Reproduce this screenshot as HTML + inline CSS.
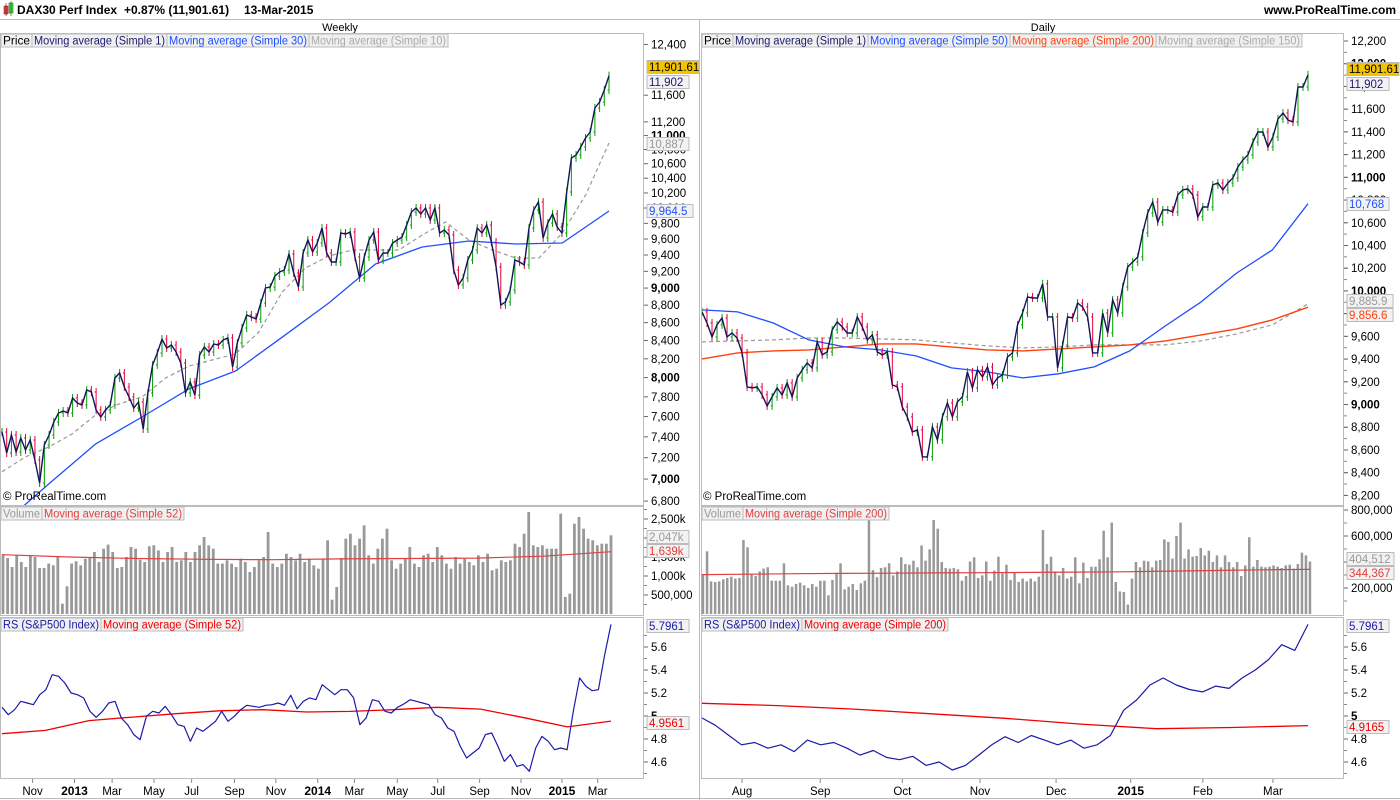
<!DOCTYPE html>
<html><head><meta charset="utf-8"><title>DAX30 Perf Index</title>
<style>
html,body{margin:0;padding:0;background:#fff;}
svg{display:block;font-family:"Liberation Sans",Arial,sans-serif;}
</style></head>
<body>
<svg id="chart" width="1400" height="800" viewBox="0 0 1400 800" xmlns="http://www.w3.org/2000/svg">
<defs>
<clipPath id="cpLP"><rect x="1" y="34" width="642" height="471"/></clipPath>
<clipPath id="cpRP"><rect x="702" y="34" width="641" height="471"/></clipPath>
<clipPath id="cpLR"><rect x="1" y="618" width="642" height="160"/></clipPath>
<clipPath id="cpRR"><rect x="702" y="618" width="641" height="160"/></clipPath>
</defs>
<rect x="0" y="0" width="1400" height="800" fill="#fff"/>
<g>
<rect x="4" y="6" width="4" height="8" fill="#e05050" stroke="#800" stroke-width="0.5"/><line x1="6" y1="3" x2="6" y2="16" stroke="#800" stroke-width="0.6"/>
<rect x="9" y="3" width="4" height="10" fill="#50d050" stroke="#060" stroke-width="0.5"/><line x1="11" y1="1" x2="11" y2="16" stroke="#060" stroke-width="0.6"/>
<text x="17" y="14" font-size="12" font-weight="bold" fill="#000">DAX30 Perf Index</text>
<text x="124" y="14" font-size="12" font-weight="bold" fill="#000">+0.87% (11,901.61)</text>
<text x="244" y="14" font-size="12" font-weight="bold" fill="#000">13-Mar-2015</text>
<text x="1396" y="14" font-size="12" font-weight="bold" fill="#000" text-anchor="end">www.ProRealTime.com</text>
<line x1="0" y1="19.5" x2="1400" y2="19.5" stroke="#bbb"/>
</g>
<text x="340" y="31" font-size="11" text-anchor="middle">Weekly</text>
<text x="1043" y="31" font-size="11" text-anchor="middle">Daily</text>
<g id="frames" fill="none" stroke="#bbb">
<rect x="0.5" y="33.5" width="643" height="472"/>
<rect x="0.5" y="506.5" width="643" height="109"/>
<rect x="0.5" y="617.5" width="643" height="161"/>
<rect x="701.5" y="33.5" width="642" height="472"/>
<rect x="701.5" y="506.5" width="642" height="109"/>
<rect x="701.5" y="617.5" width="642" height="161"/>
<line x1="0" y1="798.5" x2="1400" y2="798.5"/>
<line x1="699.5" y1="20" x2="699.5" y2="800"/>
</g>
<g id="plot"></g>
<g id="overlay"></g>
</svg>
<script>
// ===== Weekly data =====
const weeklyClose=[7447,7244,7418,7254,7389,7273,7369,7178,6964,7321,7418,7546,7636,7656,7636,7788,7737,7717,7870,7850,7666,7596,7666,7717,7995,8049,7902,7798,7686,7747,7477,7840,8134,8263,8416,8318,8350,8274,8155,7840,7954,7818,8241,8329,8274,8362,8350,8406,8428,8112,8373,8539,8687,8664,8641,8825,9001,9013,9144,9192,9216,9413,9180,9013,9425,9588,9437,9550,9740,9425,9314,9314,9676,9663,9689,9376,9120,9376,9588,9689,9339,9425,9425,9550,9588,9625,9779,9947,10000,9921,10000,9843,10000,9676,9715,9651,9216,9037,9120,9339,9462,9740,9676,9779,9563,9253,8802,8837,8977,9339,9314,9277,9740,9974,10079,9613,9805,9921,9753,9676,10213,10680,10722,10836,10965,11052,11406,11497,11680,11902];
const weeklyMA30=[6590,6955,7330,7596,7882,8070,8437,8825,9290,9500,9575,9537,9550,9960];
const weeklyMA10=[7068,7206,7302,7428,7615,7727,7798,7995,8122,8187,8253,8494,8954,9241,9388,9462,9462,9462,9651,9817,9588,9462,9363,9363,9676,10172,10893];
const weeklyVolume=[1561,1474,1237,1544,1368,1237,1544,1500,1211,1211,1325,1281,1500,272,728,1325,1386,1281,1456,1500,1632,1368,1719,1825,1632,1211,1237,1500,1763,1719,1430,1368,1781,1807,1675,1368,1632,1763,1368,1412,1632,1368,1632,1807,2026,1807,1719,1325,1325,1412,1325,1237,1456,1368,1105,1237,1412,1500,2158,1325,1237,1325,1588,1500,1412,1588,1368,1456,1281,1193,1456,1939,377,711,1474,1982,2114,1807,1982,2333,1544,1325,1719,1982,2246,1412,1193,1325,1456,1763,1325,1237,1544,1588,1368,1763,1544,1325,1193,1500,1325,1456,1368,1281,1544,1368,1588,1149,1193,1412,1368,1412,1851,1763,2114,2684,1807,1763,1807,1719,1719,1719,2640,447,535,2377,2553,2246,1982,1939,1807,1851,1851,2070];
const weeklyVolMA=[1560,1500,1460,1440,1430,1450,1460,1470,1520,1640];
const weeklyRS=[5.076,5.011,5.055,5.128,5.113,5.098,5.185,5.229,5.359,5.345,5.287,5.2,5.185,5.157,5.041,4.989,5.041,5.113,5.128,4.983,4.924,4.838,4.794,4.997,5.041,5.026,5.084,5.011,4.924,4.91,4.78,4.896,4.867,4.91,4.954,5.041,4.954,4.997,5.055,5.093,5.084,5.076,5.093,5.098,5.113,5.093,5.18,5.063,5.128,5.157,5.142,5.272,5.229,5.185,5.229,5.229,5.157,4.924,4.983,5.142,5.128,5.041,5.026,5.076,5.104,5.142,5.128,5.113,5.098,5.011,4.983,4.896,4.867,4.736,4.635,4.678,4.722,4.838,4.852,4.736,4.606,4.664,4.562,4.577,4.519,4.722,4.823,4.78,4.707,4.722,4.707,5.041,5.33,5.258,5.22,5.229,5.533,5.7961];
const weeklyRSMA=[4.846,4.875,4.96,4.99,5.02,5.045,5.055,5.035,5.04,5.055,5.076,5.06,4.985,4.905,4.956];
// ===== Daily data =====
const dailyClose=[9815,9718,9595,9701,9762,9595,9630,9586,9454,9155,9146,9155,9085,8988,9067,9146,9085,9190,9067,9234,9305,9366,9322,9551,9437,9463,9657,9727,9683,9630,9630,9771,9683,9569,9613,9463,9437,9463,9173,9155,8979,8891,8759,8777,8539,8539,8803,8689,8891,9014,8891,9023,9067,9287,9146,9305,9243,9331,9173,9234,9261,9419,9454,9701,9806,9947,9938,9938,10062,9771,9771,9322,9525,9771,9762,9894,9859,9771,9454,9454,9806,9630,9921,9806,10035,10211,10255,10299,10510,10686,10783,10607,10713,10713,10695,10845,10889,10898,10845,10651,10739,10739,10933,10950,10889,10950,10994,11091,11153,11197,11311,11399,11399,11267,11355,11514,11566,11505,11487,11795,11795,11902];
const dailyMA50=[9833,9815,9718,9569,9507,9481,9428,9322,9287,9234,9270,9331,9472,9692,9903,10158,10361,10768];
const dailyMA200=[9402,9454,9472,9481,9507,9534,9534,9507,9481,9472,9490,9507,9525,9560,9613,9666,9745,9857];
const dailyMA150=[9551,9560,9569,9586,9586,9578,9569,9542,9516,9498,9507,9525,9525,9525,9560,9622,9701,9886];
const dailyVolume=[303,482,251,246,251,267,277,287,272,277,569,513,310,292,328,349,359,256,256,256,390,221,210,231,241,221,200,231,210,256,256,144,262,318,390,190,210,231,185,236,256,728,338,282,354,359,390,297,328,436,385,379,410,359,528,410,497,723,656,400,354,349,354,344,256,292,405,436,277,297,405,256,333,441,313,379,262,318,246,272,251,272,251,287,646,385,441,328,297,354,272,287,436,236,395,277,364,364,421,641,436,703,246,174,169,72,272,400,359,410,405,359,410,415,574,554,426,600,703,426,497,441,446,508,451,487,400,451,359,451,400,359,400,292,374,590,364,415,364,359,364,374,364,354,374,379,349,385,472,451,405];
const dailyVolMA=[303,306,310,312,314,316,318,320,322,325,330,335,340,344];
const dailyRS=[4.983,4.92,4.835,4.75,4.77,4.72,4.75,4.69,4.79,4.75,4.77,4.72,4.66,4.70,4.64,4.62,4.65,4.57,4.60,4.53,4.57,4.66,4.75,4.82,4.77,4.83,4.79,4.75,4.79,4.72,4.75,4.83,5.05,5.14,5.27,5.33,5.27,5.23,5.21,5.26,5.24,5.33,5.40,5.49,5.62,5.57,5.7961];
const dailyRSMA=[5.11,5.09,5.06,5.02,4.98,4.93,4.89,4.90,4.9165];
// ===== tick labels =====
const weeklyPriceTicks=[12400,11600,11200,11000,10800,10600,10400,10200,10000,9800,9600,9400,9200,9000,8800,8600,8400,8200,8000,7800,7600,7400,7200,7000,6800];
const dailyPriceTicks=[12200,12000,11800,11600,11400,11200,11000,10800,10600,10400,10200,10000,9800,9600,9400,9200,9000,8800,8600,8400,8200];
const weeklyVolTicks=[2500,2000,1500,1000,500];
const weeklyVolTickLabels=["2,500k","2,000k","1,500k","1,000k","500,000"];
const dailyVolTicks=[800,600,400,200];
const dailyVolTickLabels=["800,000","600,000","400,000","200,000"];
const rsTicks=[5.6,5.4,5.2,5,4.8,4.6];
const weeklyMonths=["Nov","2013","Mar","May","Jul","Sep","Nov","2014","Mar","May","Jul","Sep","Nov","2015","Mar"];
const weeklyMonthWeek=[6.5,15.4,23.4,32.3,40.3,49.4,58.2,67.1,74.9,84,92.6,101.5,110.3,119,126.6];
const dailyMonths=["Aug","Sep","Oct","Nov","Dec","2015","Feb","Mar"];
const dailyMonthDay=[8,23.6,40,55.5,70.7,85.6,100,114];

const NS="http://www.w3.org/2000/svg";
const plot=document.getElementById('plot');
const overlay=document.getElementById('overlay');
function mk(tag,attrs,parent){const e=document.createElementNS(NS,tag);for(const k in attrs)e.setAttribute(k,attrs[k]);(parent||plot).appendChild(e);return e;}
function fmt(v){return v.toLocaleString('en-US');}

// scales
const wx=i=>2+i*(607/(weeklyClose.length-1));
const wy=p=>208-760*Math.log(p/10000);
const dx=i=>702+i*(606/(dailyClose.length-1));
const dy=p=>41+(12200-p)*0.1136;
const rsy=v=>716-(v-5)*115;
const wvy=v=>614-v*0.038;
const dvy=v=>614-v*0.13;

function sampled(arr,x0,x1,yf,attrs,name,parent){
  const pts=arr.map((v,k)=>(x0+k*(x1-x0)/(arr.length-1)).toFixed(1)+','+yf(v).toFixed(1)).join(' ');
  const el=mk('polyline',Object.assign({points:pts,fill:'none','stroke-linejoin':'round'},attrs),parent);
  
  
  return el;
}

function priceBars(close,xf,yf,clip,prefix){
  const g=mk('g',{'clip-path':'url(#'+clip+')'});
  
  
  for(let i=0;i<close.length;i++){
    const prev=i>0?close[i-1]:close[i];
    const up=close[i]>=prev;
    const y1=yf(Math.max(prev,close[i]))-4, y2=yf(Math.min(prev,close[i]))+4;
    const col=up?'#00a000':'#e8003a';
    const b=mk('line',{x1:xf(i),x2:xf(i),y1:y1,y2:y2,stroke:col,'stroke-width':1},g);
    
    
    const o=mk('line',{x1:xf(i)-1.5,x2:xf(i),y1:yf(prev),y2:yf(prev),stroke:col,'stroke-width':1},g);
    
    
  }
  return g;
}

// ---- weekly price
const gLP=mk('g',{'clip-path':'url(#cpLP)'});


sampled(weeklyMA10,2,609,wy,{stroke:'#999','stroke-width':1.2,'stroke-dasharray':'4,3'},'weekly-ma10-line',gLP);
sampled(weeklyMA30,2,609,wy,{stroke:'#1f4fff','stroke-width':1.3},'weekly-ma30-line',gLP);
priceBars(weeklyClose,wx,wy,'cpLP','weekly');
{const el=mk('polyline',{points:weeklyClose.map((v,i)=>wx(i).toFixed(1)+','+wy(v).toFixed(1)).join(' '),fill:'none',stroke:'#14145a','stroke-width':1.4,'clip-path':'url(#cpLP)'});

}

// ---- daily price
const gRP=mk('g',{'clip-path':'url(#cpRP)'});


sampled(dailyMA150,702,1308,dy,{stroke:'#999','stroke-width':1.2,'stroke-dasharray':'4,3'},'daily-ma150-line',gRP);
sampled(dailyMA200,702,1308,dy,{stroke:'#ff4010','stroke-width':1.4},'daily-ma200-line',gRP);
sampled(dailyMA50,702,1308,dy,{stroke:'#1f4fff','stroke-width':1.3},'daily-ma50-line',gRP);
priceBars(dailyClose,dx,dy,'cpRP','daily');
{const el=mk('polyline',{points:dailyClose.map((v,i)=>dx(i).toFixed(1)+','+dy(v).toFixed(1)).join(' '),fill:'none',stroke:'#14145a','stroke-width':1.4,'clip-path':'url(#cpRP)'});

}

// ---- volumes
function volBars(vals,x0,x1,yf,prefix){
  const n=vals.length, step=(x1-x0)/(n-1), w=Math.max(1.5,step*0.62);
  for(let i=0;i<n;i++){
    const y=yf(vals[i]);
    const r=mk('rect',{x:(x0+i*step-w/2).toFixed(1),y:y.toFixed(1),width:w.toFixed(1),height:(614-y).toFixed(1),fill:'#999'});
    
    
  }
}
volBars(weeklyVolume,3,611,wvy,'weekly');
sampled(weeklyVolMA,2,611,wvy,{stroke:'#e04040','stroke-width':1.2},'weekly-volume-ma52-line');
volBars(dailyVolume,703,1310,dvy,'daily');
sampled(dailyVolMA,702,1310,dvy,{stroke:'#e04040','stroke-width':1.2},'daily-volume-ma200-line');

// ---- RS
const gLR=mk('g',{'clip-path':'url(#cpLR)'});


sampled(weeklyRSMA,2,611,rsy,{stroke:'#f00000','stroke-width':1.3},'weekly-rs-ma52-line',gLR);
sampled(weeklyRS,2,611,rsy,{stroke:'#1a1aa8','stroke-width':1.2},'weekly-rs-line',gLR);
const gRR=mk('g',{'clip-path':'url(#cpRR)'});


sampled(dailyRSMA,702,1308,rsy,{stroke:'#f00000','stroke-width':1.3},'daily-rs-ma200-line',gRR);
sampled(dailyRS,702,1308,rsy,{stroke:'#1a1aa8','stroke-width':1.2},'daily-rs-line',gRR);

// ---- axes
function axis(x,ticks,labels,yf,bold,prefix,minorStep,minorFrom,minorTo){
  if(minorStep){for(let v=minorFrom;v<=minorTo+1e-9;v+=minorStep){const y=yf(v);const t=mk('line',{x1:x,x2:x+3,y1:y,y2:y,stroke:'#888'});}}
  ticks.forEach((v,k)=>{
    const y=yf(v);
    const t=mk('line',{x1:x,x2:x+4,y1:y,y2:y,stroke:'#666'});
    
    
    const tx=mk('text',{x:x+7,y:y+4,'font-size':11.5,fill:'#000','font-weight':bold(v)?'bold':'normal'});
    tx.textContent=labels[k];
    
    
  });
}
const thousandBold=v=>v%1000===0;
axis(644,weeklyPriceTicks,weeklyPriceTicks.map(fmt),wy,thousandBold,'weekly-price-axis');
axis(1344,dailyPriceTicks,dailyPriceTicks.map(fmt),dy,thousandBold,'daily-price-axis',100,8200,12200);
axis(644,weeklyVolTicks,weeklyVolTickLabels,wvy,()=>false,'weekly-volume-axis',250,250,2750);
axis(1344,dailyVolTicks,dailyVolTickLabels,dvy,()=>false,'daily-volume-axis',100,100,800);
axis(644,rsTicks,rsTicks.map(v=>String(v)),rsy,v=>v===5,'weekly-rs-axis',0.1,4.5,5.7);
axis(1344,rsTicks,rsTicks.map(v=>String(v)),rsy,v=>v===5,'daily-rs-axis',0.1,4.5,5.7);

// x axes
weeklyMonths.forEach((m,k)=>{
  const x=wx(weeklyMonthWeek[k]);
  const t=mk('line',{x1:x,x2:x,y1:779,y2:783,stroke:'#888'});
  
  
  const tx=mk('text',{x:x,y:795,'font-size':/^\d/.test(m)?12:11.5,'font-weight':/^\d/.test(m)?'bold':'normal','text-anchor':'middle'});
  tx.textContent=m;
  
  
});
dailyMonths.forEach((m,k)=>{
  const x=dx(dailyMonthDay[k]);
  const t=mk('line',{x1:x,x2:x,y1:779,y2:783,stroke:'#888'});
  
  
  const tx=mk('text',{x:x,y:795,'font-size':/^\d/.test(m)?12:11.5,'font-weight':/^\d/.test(m)?'bold':'normal','text-anchor':'middle'});
  tx.textContent=m;
  
  
});

// value badges
function badge(x,y,text,fg,bg,name,w){
  const r=mk('rect',{x:x,y:y-6.5,width:w,height:13,fill:bg,stroke:'#bbb'},overlay);
  
  
  const t=mk('text',{x:x+2,y:y+4,'font-size':11.5,fill:fg},overlay);
  t.textContent=text;
  
  
}
badge(647,67,'11,901.61','#000','#f5c400','weekly-last-price',52);
badge(647,82,'11,902','#1a1a6e','#f2f2f2','weekly-ma1-value',42);
badge(647,144,'10,887','#999','#f2f2f2','weekly-ma10-value',42);
badge(647,211,'9,964.5','#1f4fff','#f2f2f2','weekly-ma30-value',46);
badge(1347,69,'11,901.61','#000','#f5c400','daily-last-price',52);
badge(1347,84,'11,902','#1a1a6e','#f2f2f2','daily-ma1-value',42);
badge(1347,204,'10,768','#1f4fff','#f2f2f2','daily-ma50-value',42);
badge(1347,301,'9,885.9','#999','#f2f2f2','daily-ma150-value',46);
badge(1347,315,'9,856.6','#ff4010','#f2f2f2','daily-ma200-value',46);
badge(647,537,'2,047k','#999','#f2f2f2','weekly-volume-value',42);
badge(647,551,'1,639k','#e04040','#f2f2f2','weekly-volume-ma-value',42);
badge(1347,559,'404,512','#999','#f2f2f2','daily-volume-value',47);
badge(1347,573,'344,367','#e04040','#f2f2f2','daily-volume-ma-value',47);
badge(647,626,'5.7961','#1a1aa8','#f2f2f2','weekly-rs-value',42);
badge(647,723,'4.9561','#f00000','#f2f2f2','weekly-rs-ma-value',42);
badge(1347,626,'5.7961','#1a1aa8','#f2f2f2','daily-rs-value',42);
badge(1347,727,'4.9165','#f00000','#f2f2f2','daily-rs-ma-value',42);

// legends
function legend(x,y,items,prefix){
  let cx=x;
  items.forEach(([txt,col,w])=>{
    const r=mk('rect',{x:cx,y:y,width:w,height:13,fill:'#f0f0f0',stroke:'#bbb'},overlay);
    
    
    const t=mk('text',{x:cx+2,y:y+10.5,'font-size':11.5,fill:col,textLength:w-4,lengthAdjust:'spacingAndGlyphs'},overlay);
    t.textContent=txt;
    
    
    cx+=w;
  });
}
legend(1,34,[['Price','#000',31],['Moving average (Simple 1)','#1a1a6e',135],['Moving average (Simple 30)','#1f4fff',142],['Moving average (Simple 10)','#aaa',139]],'weekly-price');
legend(702,34,[['Price','#000',31],['Moving average (Simple 1)','#1a1a6e',135],['Moving average (Simple 50)','#1f4fff',142],['Moving average (Simple 200)','#ff4010',146],['Moving average (Simple 150)','#aaa',146]],'daily-price');
legend(1,507,[['Volume','#999',41],['Moving average (Simple 52)','#e04040',142]],'weekly-volume');
legend(702,507,[['Volume','#999',41],['Moving average (Simple 200)','#e04040',146]],'daily-volume');
legend(1,618,[['RS (S&P500 Index)','#1a1aa8',100],['Moving average (Simple 52)','#f00000',142]],'weekly-rs');
legend(702,618,[['RS (S&P500 Index)','#1a1aa8',100],['Moving average (Simple 200)','#f00000',146]],'daily-rs');

// copyright
[[3,'weekly'],[703,'daily']].forEach(([x,p])=>{
  const t=mk('text',{x:x,y:500,'font-size':11.5,fill:'#000'},overlay);
  t.textContent='© ProRealTime.com';
  
  
});
</script>
</body></html>
